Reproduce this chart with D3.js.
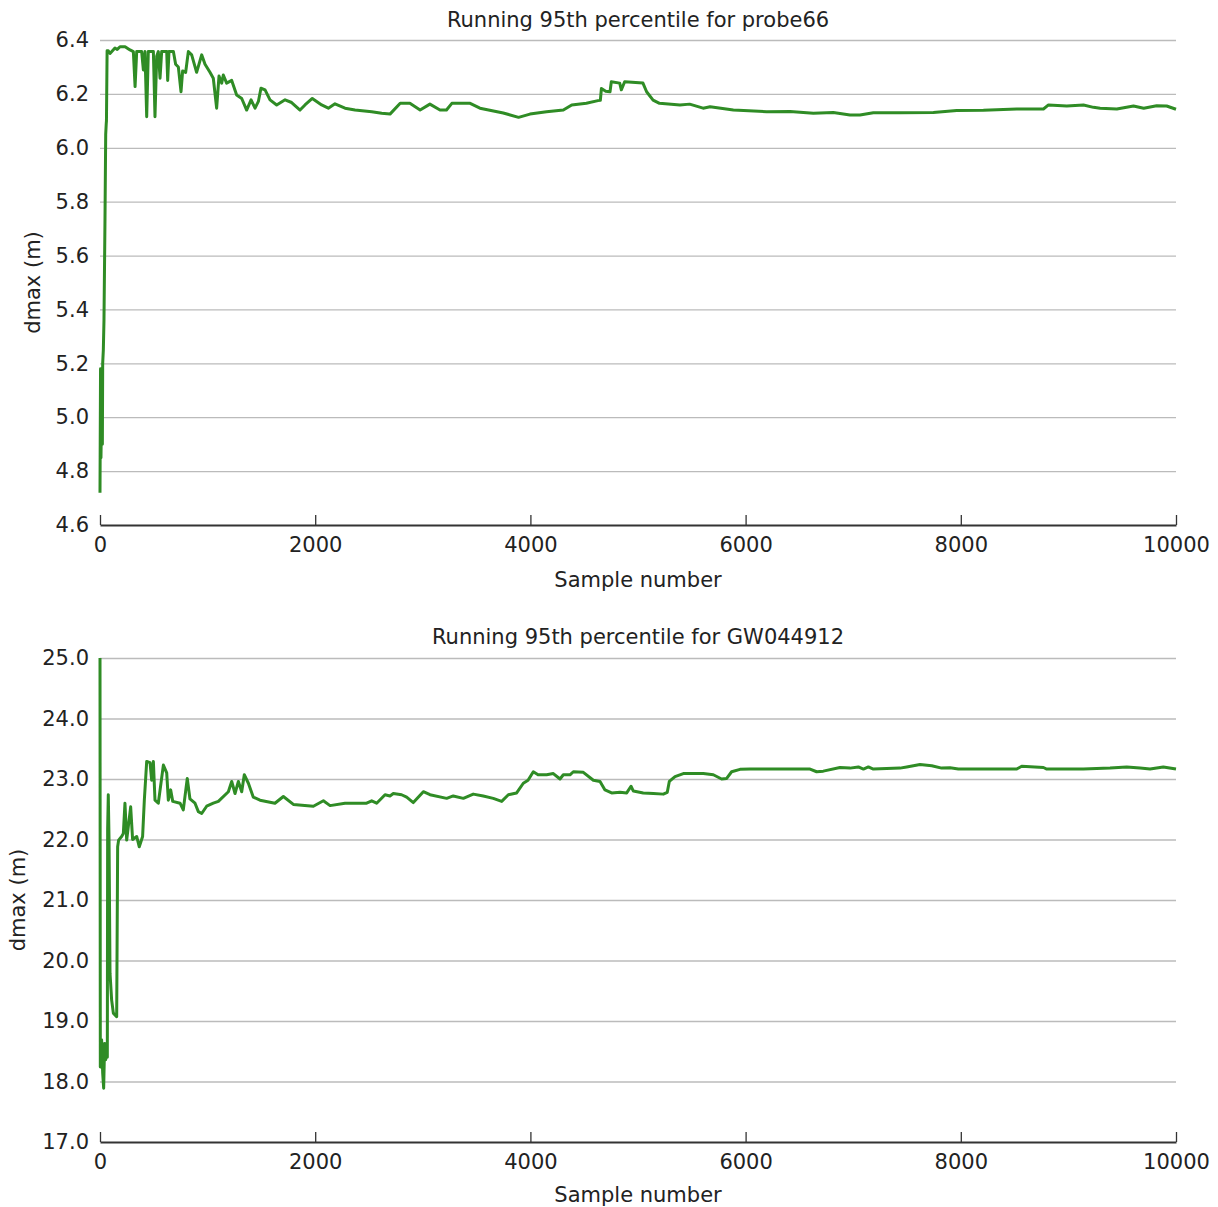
<!DOCTYPE html>
<html>
<head>
<meta charset="utf-8">
<script src="https://cdn.jsdelivr.net/npm/d3@7"></script>
<style>
  html, body { margin: 0; padding: 0; background: #fff; }
  text { font-family: "DejaVu Sans", sans-serif; }
</style>
</head>
<body>
<svg id="chart" width="1218" height="1207"></svg>
<script>
// ---------- data ----------
const xTicks = [0, 2000, 4000, 6000, 8000, 10000];

const topTitle = "Running 95th percentile for probe66";
const topYTicks = [4.6, 4.8, 5.0, 5.2, 5.4, 5.6, 5.8, 6.0, 6.2, 6.4];
const topSamples = [0,5,9,15,22,25,31,37,46,53,58,60,66,77,93,139,160,186,233,279,310,326,341,387,403,418,434,449,496,511,527,542,558,573,620,629,641,682,703,728,753,768,796,821,852,898,945,976,1022,1053,1084,1106,1131,1146,1177,1224,1270,1317,1363,1404,1441,1472,1496,1534,1580,1642,1720,1781,1859,1905,1973,2060,2122,2184,2277,2370,2525,2618,2695,2790,2880,2975,3066,3160,3220,3270,3440,3531,3748,3890,3996,4150,4306,4384,4520,4628,4650,4660,4700,4740,4752,4830,4845,4876,5046,5080,5140,5200,5390,5480,5605,5670,5886,6196,6413,6630,6815,6970,7063,7187,7435,7745,7962,8210,8520,8768,8815,8985,9140,9233,9295,9450,9605,9700,9820,9913,10000];
const topValues = [4.72,5.18,4.85,5.02,4.90,5.20,5.25,5.36,5.72,6.05,6.09,6.10,6.36,6.36,6.35,6.37,6.365,6.375,6.375,6.363,6.357,6.227,6.357,6.357,6.289,6.357,6.115,6.357,6.357,6.115,6.34,6.357,6.258,6.357,6.357,6.25,6.357,6.357,6.31,6.30,6.208,6.285,6.28,6.357,6.345,6.28,6.345,6.31,6.28,6.258,6.147,6.266,6.24,6.27,6.24,6.25,6.196,6.183,6.14,6.178,6.147,6.172,6.221,6.215,6.178,6.159,6.178,6.168,6.14,6.159,6.183,6.159,6.147,6.163,6.147,6.14,6.134,6.128,6.125,6.165,6.165,6.14,6.162,6.14,6.14,6.165,6.165,6.147,6.129,6.113,6.125,6.134,6.14,6.159,6.165,6.175,6.176,6.22,6.21,6.208,6.245,6.24,6.215,6.245,6.24,6.208,6.177,6.165,6.159,6.162,6.147,6.152,6.14,6.134,6.135,6.128,6.131,6.122,6.122,6.13,6.13,6.131,6.138,6.139,6.144,6.144,6.159,6.155,6.159,6.15,6.147,6.144,6.155,6.147,6.156,6.155,6.143];

const bottomTitle = "Running 95th percentile for GW044912";
const bottomYTicks = [17, 18, 19, 20, 21, 22, 23, 24, 25];
const bottomSamples = [0,3,15,25,34,43,53,62,68,71,77,84,93,108,124,155,164,173,201,217,232,248,285,303,341,365,396,412,434,465,480,496,511,542,589,620,635,657,676,744,774,811,836,883,914,945,991,1053,1100,1193,1224,1255,1286,1317,1341,1379,1425,1487,1626,1704,1797,1983,2076,2138,2277,2478,2525,2571,2649,2695,2726,2803,2850,2912,3005,3067,3222,3283,3377,3469,3562,3655,3733,3795,3872,3934,3978,4027,4071,4151,4213,4275,4306,4368,4399,4492,4585,4647,4693,4755,4833,4895,4935,4957,5049,5143,5235,5272,5291,5344,5421,5514,5607,5700,5777,5824,5870,5948,6041,6350,6599,6660,6722,6877,6970,7048,7095,7141,7187,7435,7497,7621,7730,7822,7900,7977,8210,8520,8566,8768,8799,8985,9139,9387,9542,9666,9759,9882,10000];
const bottomValues = [25.0,18.24,18.69,18.14,17.89,18.63,18.36,18.63,18.4,22.16,22.74,21.99,19.79,19.35,19.13,19.07,21.88,21.99,22.05,22.1,22.6,21.99,22.54,22.0,22.05,21.88,22.05,22.65,23.29,23.27,22.98,23.29,22.65,22.6,23.23,23.1,22.65,22.82,22.63,22.6,22.49,23.01,22.67,22.6,22.46,22.43,22.55,22.6,22.63,22.79,22.96,22.76,22.96,22.79,23.07,22.93,22.7,22.65,22.6,22.71,22.58,22.55,22.64,22.56,22.6,22.6,22.64,22.6,22.74,22.72,22.76,22.74,22.7,22.61,22.79,22.74,22.68,22.72,22.68,22.75,22.72,22.68,22.63,22.74,22.77,22.93,22.98,23.12,23.07,23.07,23.09,23.0,23.07,23.07,23.12,23.11,22.98,22.96,22.82,22.77,22.78,22.77,22.88,22.8,22.77,22.76,22.75,22.78,22.96,23.04,23.09,23.09,23.09,23.07,23.0,23.01,23.12,23.16,23.165,23.165,23.165,23.12,23.13,23.19,23.18,23.2,23.165,23.2,23.165,23.18,23.2,23.24,23.22,23.18,23.185,23.165,23.165,23.165,23.21,23.19,23.165,23.165,23.165,23.18,23.2,23.18,23.165,23.2,23.165];

const xLabel = "Sample number";
const yLabel = "dmax (m)";

// ---------- drawing ----------
const svg = d3.select("#chart");
const lineColor = "#2f8c25";

function panel(cfg) {
  const g = svg.append("g");
  const x = d3.scaleLinear().domain([0, 10000]).range([100, 1176]);
  const y = d3.scaleLinear().domain(cfg.yDomain).range([cfg.bottom, cfg.top]);

  // grid + y tick labels
  const yAxis = d3.axisLeft(y).tickValues(cfg.yTicks)
    .tickFormat(d3.format(".1f"))
    .tickSizeInner(-1076).tickSizeOuter(0).tickPadding(11);
  const ya = g.append("g").attr("transform", "translate(100,0)").call(yAxis);
  ya.select(".domain").remove();
  ya.selectAll(".tick line").attr("stroke", "#bbbbbb").attr("stroke-width", 1.3)
    .filter(d => d === cfg.yDomain[0]).remove();
  ya.selectAll(".tick text").attr("font-size", 21).attr("fill", "#222")
    .attr("font-family", "DejaVu Sans");

  // line
  const data = cfg.samples.map((s, i) => [s, cfg.values[i]]);
  g.append("path").datum(data)
    .attr("fill", "none").attr("stroke", lineColor).attr("stroke-width", 3)
    .attr("stroke-linejoin", "round")
    .attr("d", d3.line().x(d => x(d[0])).y(d => y(d[1])));

  // x axis
  const xAxis = d3.axisBottom(x).tickValues(xTicks).tickFormat(d3.format("d"))
    .tickSizeInner(-10).tickSizeOuter(0).tickPadding(12);
  const xa = g.append("g").attr("transform", `translate(0,${cfg.bottom})`).call(xAxis);
  xa.select(".domain").attr("stroke", "#333").attr("stroke-width", 2);
  xa.selectAll(".tick line").attr("stroke", "#333").attr("stroke-width", 1.3);
  xa.selectAll(".tick text").attr("font-size", 21).attr("fill", "#222")
    .attr("font-family", "DejaVu Sans");

  // title
  g.append("text").attr("x", 638).attr("y", cfg.titleY)
    .attr("text-anchor", "middle").attr("font-size", 21).attr("fill", "#222")
    .text(cfg.title);
  // x label
  g.append("text").attr("x", 638).attr("y", cfg.bottom + cfg.xLabelOffset)
    .attr("text-anchor", "middle").attr("font-size", 21).attr("fill", "#222")
    .text(xLabel);
  // y label
  g.append("text")
    .attr("transform", `translate(${cfg.yLabelX},${(cfg.top + cfg.bottom) / 2}) rotate(-90)`)
    .attr("text-anchor", "middle").attr("font-size", 21).attr("fill", "#222")
    .text(yLabel);
}

panel({ title: topTitle, titleY: 27, top: 40, bottom: 525, yDomain: [4.6, 6.4],
        yTicks: topYTicks, samples: topSamples, values: topValues, yLabelX: 40, xLabelOffset: 62 });
panel({ title: bottomTitle, titleY: 644, top: 658, bottom: 1142, yDomain: [17, 25],
        yTicks: bottomYTicks, samples: bottomSamples, values: bottomValues, yLabelX: 25, xLabelOffset: 60 });
</script>
</body>
</html>
